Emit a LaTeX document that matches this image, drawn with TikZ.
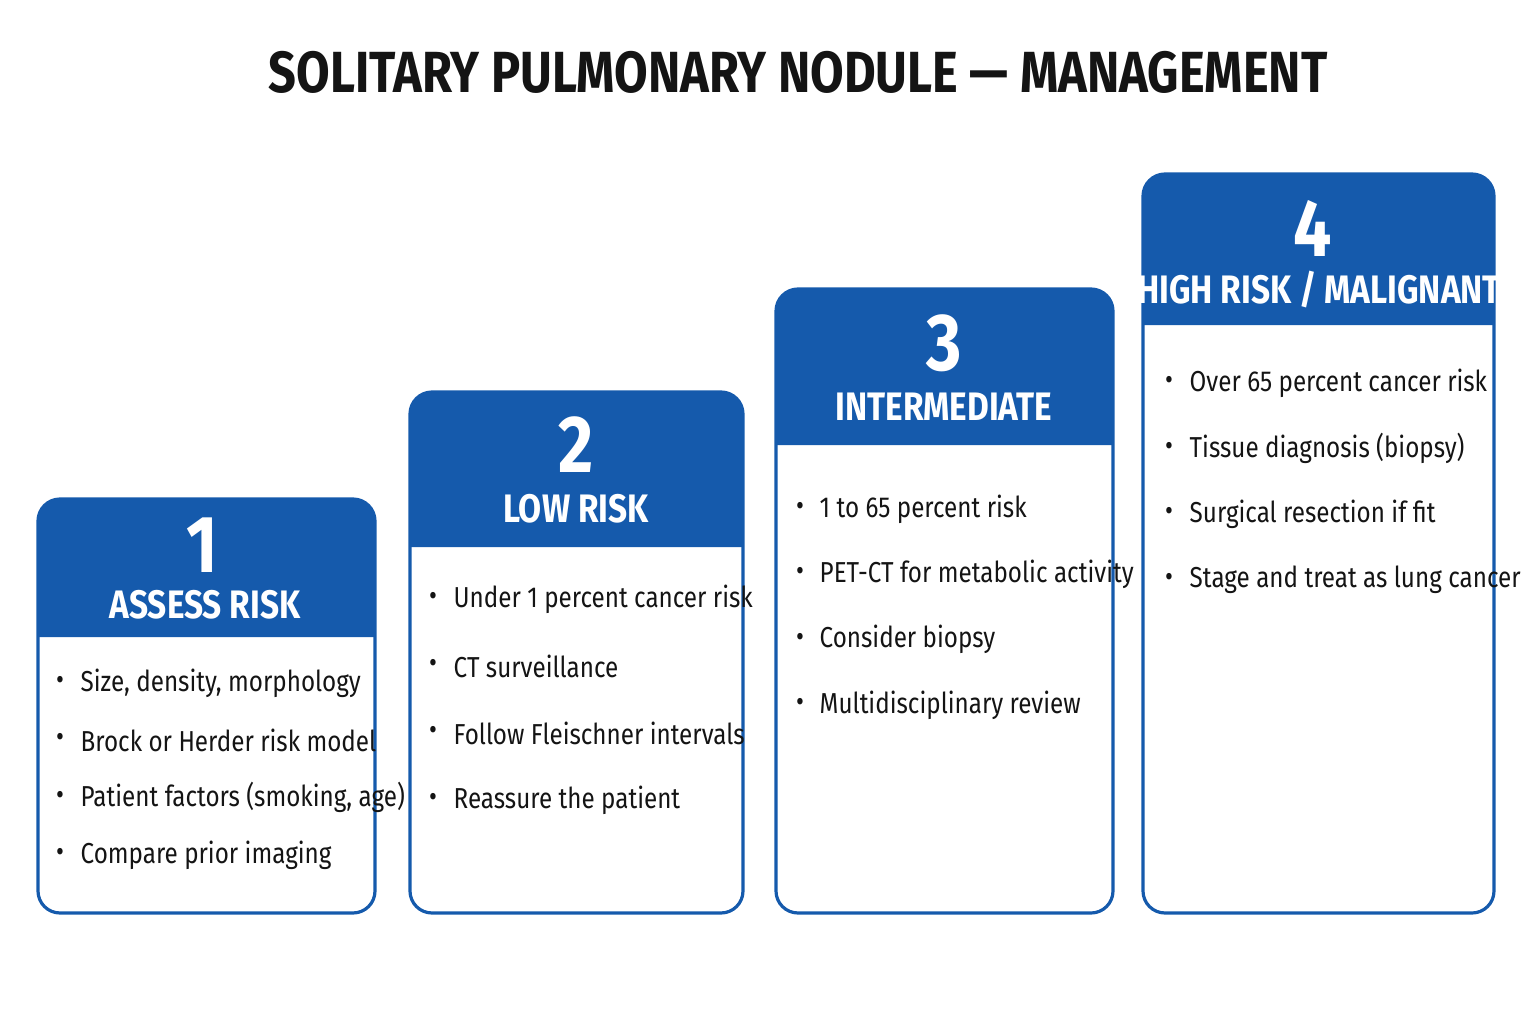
\documentclass[tikz,border=0pt]{standalone}
\usepackage{fontspec}
\setmainfont{Fira Sans}[FakeStretch=0.84]
\usepackage{tikz}
\usetikzlibrary{positioning}
\definecolor{cardblue}{RGB}{21,90,172}
\definecolor{titlecolor}{RGB}{20,20,20}

\begin{document}
\begin{tikzpicture}[
    x=0.01cm, y=-0.01cm,
    cardframe/.style={draw=cardblue, line width=0.032cm, fill=white, rounded corners=0.22cm},
    cardhead/.style={fill=cardblue},
    num/.style={text=white, font=\fontsize{23}{26}\selectfont\bfseries, inner sep=0pt},
    head/.style={text=white, font=\fontsize{11.3}{13}\selectfont\bfseries, inner sep=0pt},
    item/.style={anchor=west, font=\fontsize{8.2}{10}\selectfont, text=titlecolor, inner sep=0pt},
    dot/.style={font=\fontsize{8.2}{10}\selectfont, text=titlecolor, inner sep=0pt}
]
    \useasboundingbox (0,0) rectangle (1536,1024);
    % Title
    \node[font=\fontsize{16.5}{19}\selectfont\bfseries, text=titlecolor] (title) at (798,72) {SOLITARY PULMONARY NODULE — MANAGEMENT};

    % Card 1
    \draw[cardframe] (38,499) rectangle (375,913);
    \fill[cardhead] (38,637) [rounded corners=0.22cm] -- (38,499) -- (375,499) [sharp corners] -- (375,637) -- cycle;
    \node[num] (n1) at (202,545) {1};
    \node[head] (h1) at (205,605) {ASSESS RISK};
    \foreach \t [count=\i] in {{Size, density, morphology}, {Brock or Herder risk model}, {Patient factors (smoking, age)}, {Compare prior imaging}} {
        \node[dot] at (60,{683+57.3*(\i-1)}) {\textbullet};
        \node[item] at (80,{683+57.3*(\i-1)}) {\t};
    }

    % Card 2
    \draw[cardframe] (410,392) rectangle (743,913);
    \fill[cardhead] (410,547) [rounded corners=0.22cm] -- (410,392) -- (743,392) [sharp corners] -- (743,547) -- cycle;
    \node[num] (n2) at (576,445) {2};
    \node[head] (h2) at (576,509) {LOW RISK};
    \foreach \t [count=\i] in {{Under 1 percent cancer risk}, {CT surveillance}, {Follow Fleischner intervals}, {Reassure the patient}} {
        \node[dot] at (433,{599+67*(\i-1)}) {\textbullet};
        \node[item] at (453,{599+67*(\i-1)}) {\t};
    }

    % Card 3
    \draw[cardframe] (776,289) rectangle (1113,913);
    \fill[cardhead] (776,445) [rounded corners=0.22cm] -- (776,289) -- (1113,289) [sharp corners] -- (1113,445) -- cycle;
    \node[num] (n3) at (944,343) {3};
    \node[head] (h3) at (944,407) {INTERMEDIATE};
    \foreach \t [count=\i] in {{1 to 65 percent risk}, {PET-CT for metabolic activity}, {Consider biopsy}, {Multidisciplinary review}} {
        \node[dot] at (800,{509+65.3*(\i-1)}) {\textbullet};
        \node[item] at (819,{509+65.3*(\i-1)}) {\t};
    }

    % Card 4
    \draw[cardframe] (1143,174) rectangle (1494,913);
    \fill[cardhead] (1143,325) [rounded corners=0.22cm] -- (1143,174) -- (1494,174) [sharp corners] -- (1494,325) -- cycle;
    \node[num] (n4) at (1313,228) {4};
    \node[head] (h4) at (1319,290) {HIGH RISK / MALIGNANT};
    \foreach \t [count=\i] in {{Over 65 percent cancer risk}, {Tissue diagnosis (biopsy)}, {Surgical resection if fit}, {Stage and treat as lung cancer}} {
        \node[dot] at (1169,{383+65.7*(\i-1)}) {\textbullet};
        \node[item] at (1189,{383+65.7*(\i-1)}) {\t};
    }
\end{tikzpicture}
\end{document}
